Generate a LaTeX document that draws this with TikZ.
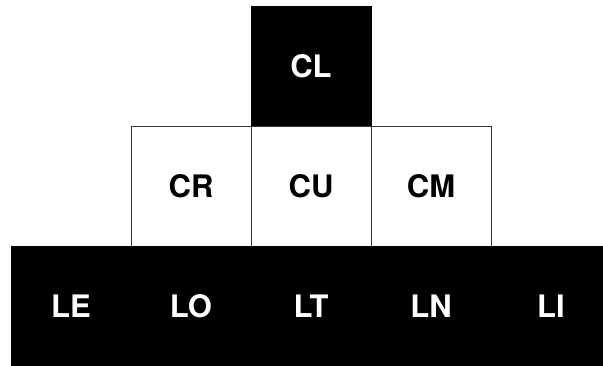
\documentclass[tikz,border=0pt]{standalone}
\usepackage{fontspec}
\setmainfont{TeX Gyre Heros}
\tikzset{
  cell/.style={draw=black!80, line width=0.8pt, minimum size=120pt, inner sep=0pt,
    font=\fontsize{31}{31}\selectfont\bfseries},
  dark/.style={cell, fill=black, draw=black, text=white},
  light/.style={cell, fill=white}
}
\begin{document}
\begin{tikzpicture}[x=1pt,y=-1pt]
    \useasboundingbox (0,0) rectangle (603,366);
    \clip (0,0) rectangle (603,366);

% top
\node[dark] (CL) at (311,66) {CL};

% middle row
\foreach \lab [count=\i from 0] in {CR,CU,CM}
  \node[light] (\lab) at (191+120*\i,186) {\lab};

% bottom row
\foreach \lab [count=\i from 0] in {LE,LO,LT,LN,LI}
  \node[dark] (\lab) at (71+120*\i,306) {\lab};

\end{tikzpicture}
\end{document}
